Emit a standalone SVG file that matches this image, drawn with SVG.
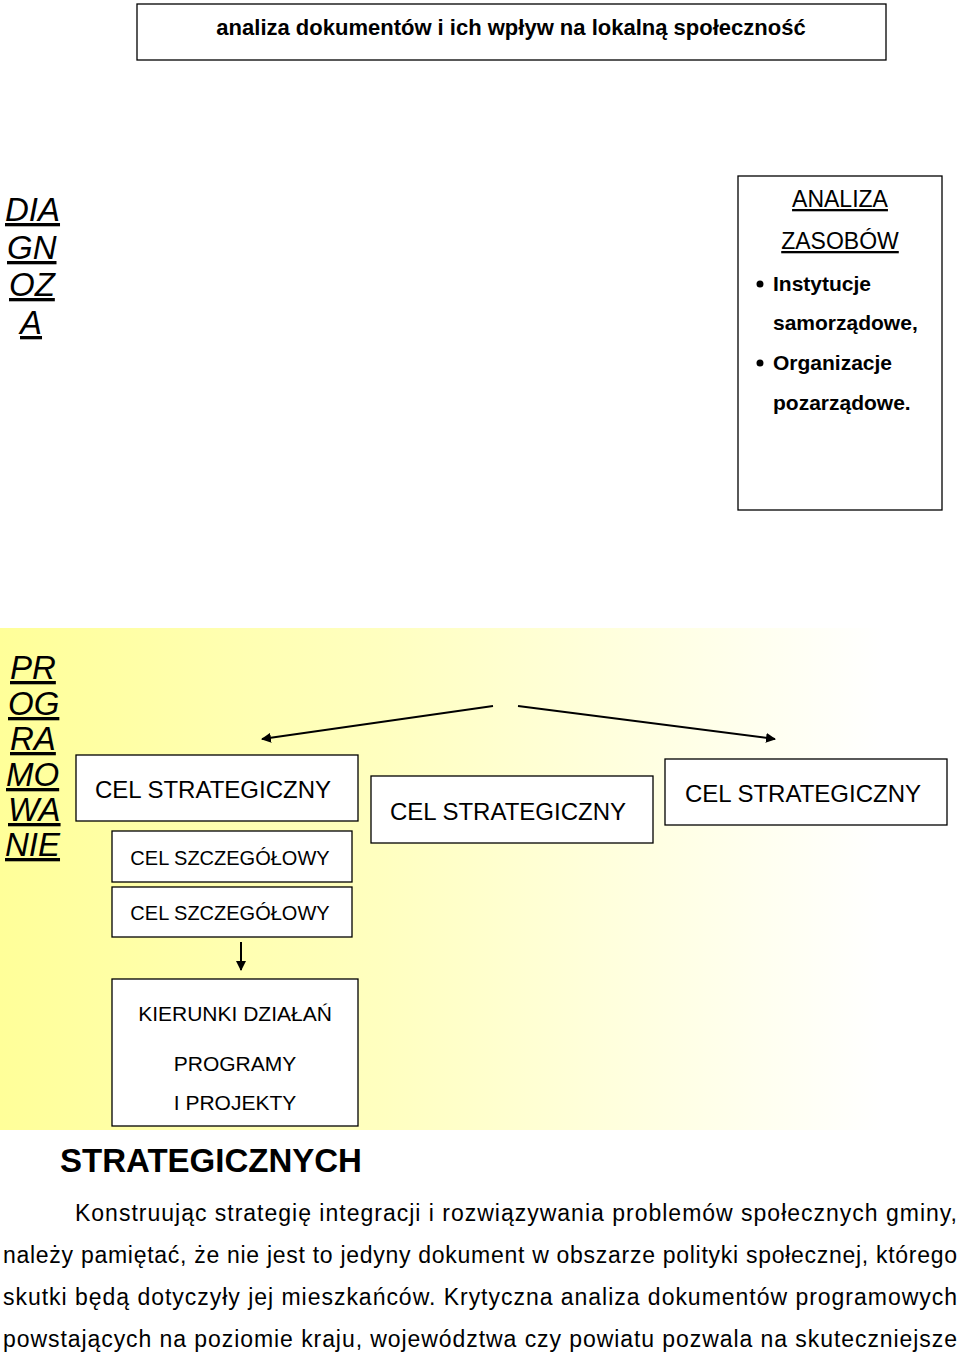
<svg xmlns="http://www.w3.org/2000/svg" width="960" height="1353" viewBox="0 0 960 1353">
<defs>
<linearGradient id="bg" x1="0" y1="0" x2="1" y2="0"><stop offset="0" stop-color="#ffff99"/><stop offset="0.4" stop-color="#ffffc0"/><stop offset="0.92" stop-color="#ffffff"/></linearGradient>
<marker id="ah" viewBox="0 0 10 10" refX="9" refY="5" markerWidth="10" markerHeight="10" markerUnits="userSpaceOnUse" orient="auto"><path d="M0,0 L10,5 L0,10 z" fill="#000"/></marker>
</defs>
<style>
.b{fill:#fff;stroke:#000;stroke-width:1.3}
.t{font-family:"Liberation Sans",Arial,sans-serif;fill:#000}
.v{font-family:"Liberation Sans",Arial,sans-serif;font-style:italic;font-size:33px;text-decoration:underline}
.c{stroke:#000;stroke-width:2;fill:none}
</style>
<rect width="960" height="1353" fill="#fff"/>
<rect x="0" y="628" width="960" height="502" fill="url(#bg)"/>
<g id="title"><rect class="b" x="137" y="4" width="749" height="56"/><text class="t" x="511" y="35" font-size="22" font-weight="bold" text-anchor="middle">analiza dokumentów i ich wpływ na lokalną społeczność</text></g>
<g id="diagnoza" class="t"><text class="v" x="5" y="221">DIA</text><text class="v" x="7" y="259">GN</text><text class="v" x="9" y="296">OZ</text><text class="v" x="20" y="334">A</text></g>
<g id="zasoby"><rect class="b" x="738" y="176" width="204" height="334"/>
<text class="t" x="840" y="207" font-size="23" text-anchor="middle" text-decoration="underline">ANALIZA</text>
<text class="t" x="840" y="249" font-size="23" text-anchor="middle" text-decoration="underline">ZASOBÓW</text>
<g class="t" font-size="21" font-weight="bold"><circle cx="760" cy="284" r="3.5"/><text x="773" y="291">Instytucje</text><text x="773" y="330">samorządowe,</text><circle cx="760" cy="363" r="3.5"/><text x="773" y="370">Organizacje</text><text x="773" y="410">pozarządowe.</text></g></g>
<g id="programowanie" class="t"><text class="v" x="10" y="679">PR</text><text class="v" x="8" y="715">OG</text><text class="v" x="10" y="750">RA</text><text class="v" x="6" y="786">MO</text><text class="v" x="8" y="821">WA</text><text class="v" x="5" y="856">NIE</text></g>
<g id="connectors"><line class="c" x1="493" y1="706" x2="262" y2="739" marker-end="url(#ah)"/><line class="c" x1="518" y1="706" x2="775" y2="739" marker-end="url(#ah)"/><line class="c" x1="241" y1="942" x2="241" y2="970" marker-end="url(#ah)"/></g>
<g id="cs1"><rect class="b" x="76" y="755" width="282" height="66"/><text class="t" x="213" y="798" font-size="24" text-anchor="middle">CEL STRATEGICZNY</text></g>
<g id="cs2"><rect class="b" x="371" y="776" width="282" height="67"/><text class="t" x="508" y="820" font-size="24" text-anchor="middle">CEL STRATEGICZNY</text></g>
<g id="cs3"><rect class="b" x="665" y="759" width="282" height="66"/><text class="t" x="803" y="802" font-size="24" text-anchor="middle">CEL STRATEGICZNY</text></g>
<g id="sz1"><rect class="b" x="112" y="831" width="240" height="51"/><text class="t" x="230" y="865" font-size="20" text-anchor="middle">CEL SZCZEGÓŁOWY</text></g>
<g id="sz2"><rect class="b" x="112" y="887" width="240" height="50"/><text class="t" x="230" y="920" font-size="20" text-anchor="middle">CEL SZCZEGÓŁOWY</text></g>
<g id="kierunki"><rect class="b" x="112" y="979" width="246" height="147"/><text class="t" x="235" y="1021" font-size="21" text-anchor="middle">KIERUNKI DZIAŁAŃ</text><text class="t" x="235" y="1071" font-size="21" text-anchor="middle">PROGRAMY</text><text class="t" x="235" y="1110" font-size="21" text-anchor="middle">I PROJEKTY</text></g>
<text class="t" x="60" y="1172" font-size="33" font-weight="bold">STRATEGICZNYCH</text>
<g class="t" font-size="23"><text x="75" y="1221" textLength="882">Konstruując strategię integracji i rozwiązywania problemów społecznych gminy,</text><text x="3" y="1263" textLength="954">należy pamiętać, że nie jest to jedyny dokument w obszarze polityki społecznej, którego</text><text x="3" y="1305" textLength="954">skutki będą dotyczyły jej mieszkańców. Krytyczna analiza dokumentów programowych</text><text x="3" y="1347" textLength="954">powstających na poziomie kraju, województwa czy powiatu pozwala na skuteczniejsze</text></g>
</svg>
